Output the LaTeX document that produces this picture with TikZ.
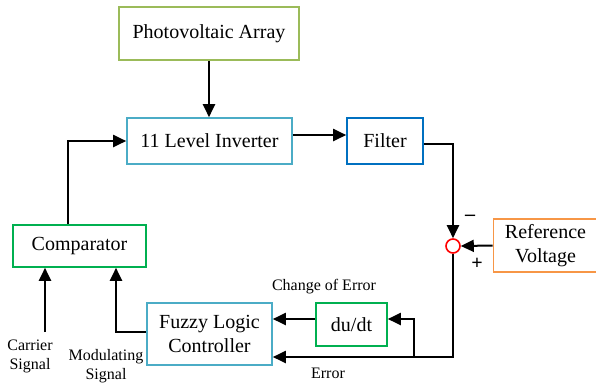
\documentclass[tikz,border=0pt]{standalone}
\usepackage{fontspec}
\setmainfont{Liberation Serif}
\usepackage{xcolor}
\usetikzlibrary{arrows.meta, calc}

\definecolor{pvgreen}{HTML}{9BBB59}
\definecolor{invblue}{HTML}{4BACC6}
\definecolor{filtblue}{HTML}{0070C0}
\definecolor{cmpgreen}{HTML}{00B050}
\definecolor{reforange}{HTML}{F79646}

\begin{document}
\begin{tikzpicture}[x=0.5pt, y=-0.5pt, line width=1pt,
	>={Triangle[length=6.5pt, width=6pt]},
	block/.style={draw, line width=0.8pt, inner sep=0pt, align=center, font=\fontsize{10}{12}\selectfont},
	lbl/.style={align=center, font=\fontsize{8}{9.5}\selectfont},
	sign/.style={font=\bfseries\fontsize{10}{12}\selectfont}]

	\useasboundingbox (0,0) rectangle (596,388);

	% blocks
	\node[block, draw=pvgreen, minimum width=90pt, minimum height=26.5pt] (pv) at (209,33.5) {Photovoltaic Array};
	\node[block, draw=invblue, minimum width=82.5pt, minimum height=23pt] (inv) at (209.5,141) {11 Level Inverter};
	\node[block, draw=filtblue, minimum width=38pt, minimum height=23pt] (filt) at (385,141) {Filter};
	\node[block, draw=cmpgreen, minimum width=66.5pt, minimum height=21pt] (comp) at (79.5,246) {Comparator};
	\node[block, draw=invblue, minimum width=62.5pt, minimum height=31pt] (fuzzy) at (209.5,334) {Fuzzy Logic\\Controller};
	\node[block, draw=cmpgreen, minimum width=35.5pt, minimum height=21.5pt] (du) at (351.5,324.5) {du/dt};
	\node[block, draw=reforange, minimum width=52pt, minimum height=26.5pt] (ref) at (545.5,245.5) {Reference\\Voltage};
	\node[draw=red, circle, line width=0.8pt, inner sep=0pt, minimum size=7pt] (sum) at (453,246) {};

	\coordinate (split) at (414,357);
	\coordinate (carrier) at (45,332);

	% connectors
	\draw[->] (pv.south) -- (pv.south |- inv.north);
	\draw[->] ([yshift=3pt]inv.east) -- ([yshift=3pt]filt.west);
	\draw[->] ([yshift=-1.5pt]filt.east) -| (sum.north);
	\draw[->] ([xshift=-5.75pt]comp.north) |- (inv.west);
	\draw[->] (ref.west) -- (sum.east);
	\draw[->] (sum.south) |- ([yshift=-11.5pt]fuzzy.east);
	\draw[->] (split) |- ([yshift=2.75pt]du.east);
	\draw[->] ([yshift=2.75pt]du.west) -- ([yshift=7.5pt]fuzzy.east);
	\draw[->] ([yshift=1pt]fuzzy.west) -| ([xshift=18.25pt]comp.south);
	\draw[->] (carrier) -- (carrier |- comp.south);

	% labels
	\node[lbl] (chg) at (324,287) {Change of Error};
	\node[lbl] (err) at (328,373) {Error};
	\node[lbl] (car) at (30,356) {Carrier\\Signal};
	\node[lbl] (mod) at (106,366) {Modulating\\Signal};
	\node[sign] (minus) at (470,218) {--};
	\node[sign] (plus) at (477,264) {+};

\end{tikzpicture}
\end{document}
